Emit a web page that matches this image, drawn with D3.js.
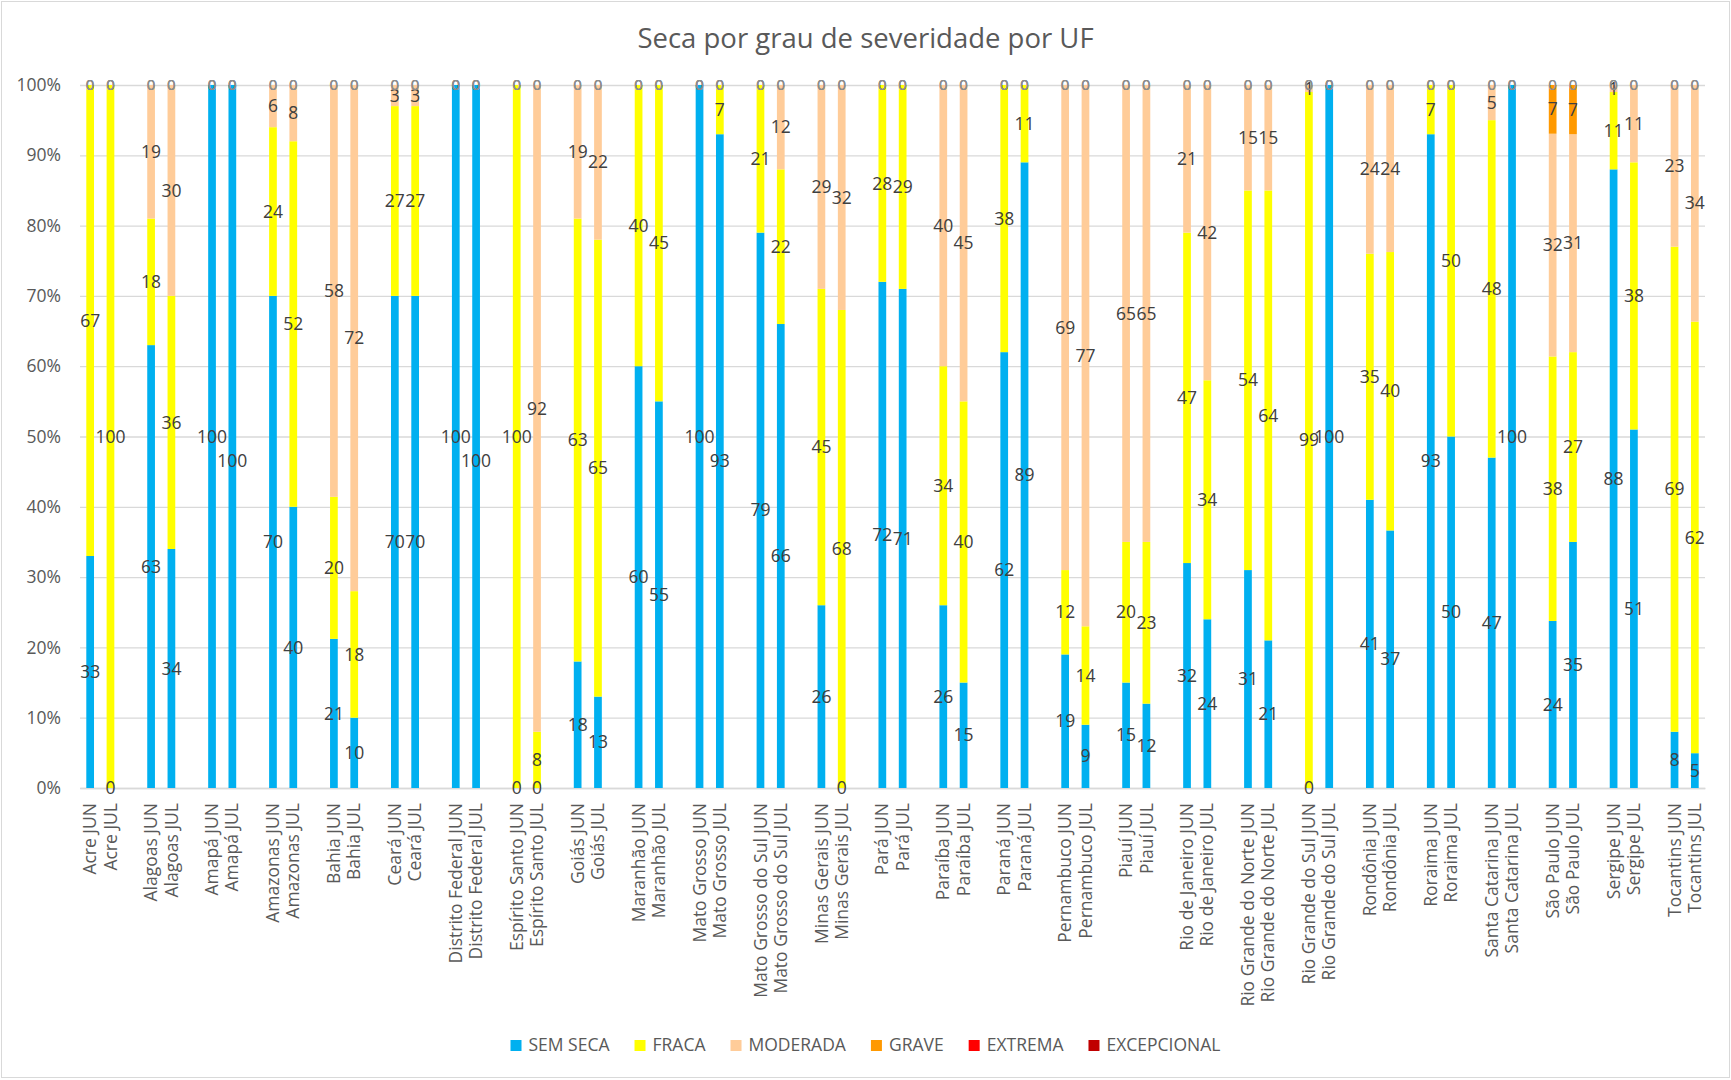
<!DOCTYPE html>
<html>
<head>
<meta charset="utf-8">
<script src="https://cdn.jsdelivr.net/npm/d3@7"></script>
<style>
  body { margin: 0; background: #fff; }
  svg { display: block; font-family: "Open Sans", sans-serif; }
</style>
</head>
<body>
<svg id="chart" width="1731" height="1080"></svg>
<script>
// dados (% por UF, JUN e JUL alternados)
const ufs = ["Acre", "Alagoas", "Amapá", "Amazonas", "Bahia", "Ceará", "Distrito Federal",
  "Espírito Santo", "Goiás", "Maranhão", "Mato Grosso", "Mato Grosso do Sul", "Minas Gerais",
  "Pará", "Paraíba", "Paraná", "Pernambuco", "Piauí", "Rio de Janeiro", "Rio Grande do Norte",
  "Rio Grande do Sul", "Rondônia", "Roraima", "Santa Catarina", "São Paulo", "Sergipe", "Tocantins"]
const meses = ["JUN", "JUL"]
const graus = ["SEM SECA", "FRACA", "MODERADA", "GRAVE", "EXTREMA", "EXCEPCIONAL"]
const cores = ["#00B0F0", "#FFFF00", "#FFCC99", "#FF9900", "#FF0000", "#C00000"]

const semSeca = [33, 0, 63, 34, 100, 100, 70, 40, 21, 10, 70, 70, 100, 100, 0, 0, 18, 13, 60, 55,
  100, 93, 79, 66, 26, 0, 72, 71, 26, 15, 62, 89, 19, 9, 15, 12, 32, 24, 31, 21, 0, 100,
  41, 37, 93, 50, 47, 100, 24, 35, 88, 51, 8, 5]
const fraca = [67, 100, 18, 36, 0, 0, 24, 52, 20, 18, 27, 27, 0, 0, 100, 8, 63, 65, 40, 45,
  0, 7, 21, 22, 45, 68, 28, 29, 34, 40, 38, 11, 12, 14, 20, 23, 47, 34, 54, 64, 99, 0,
  35, 40, 7, 50, 48, 0, 38, 27, 11, 38, 69, 62]
const moderada = [0, 0, 19, 30, 0, 0, 6, 8, 58, 72, 3, 3, 0, 0, 0, 92, 19, 22, 0, 0,
  0, 0, 0, 12, 29, 32, 0, 0, 40, 45, 0, 0, 69, 77, 65, 65, 21, 42, 15, 15, 1, 0,
  24, 24, 0, 0, 5, 0, 32, 31, 1, 11, 23, 34]
const grave = [0, 0, 0, 0, 0, 0, 0, 0, 0, 0, 0, 0, 0, 0, 0, 0, 0, 0, 0, 0,
  0, 0, 0, 0, 0, 0, 0, 0, 0, 0, 0, 0, 0, 0, 0, 0, 0, 0, 0, 0, 0, 0,
  0, 0, 0, 0, 0, 0, 7, 7, 0, 0, 0, 0]
const extrema = [0, 0, 0, 0, 0, 0, 0, 0, 0, 0, 0, 0, 0, 0, 0, 0, 0, 0, 0, 0,
  0, 0, 0, 0, 0, 0, 0, 0, 0, 0, 0, 0, 0, 0, 0, 0, 0, 0, 0, 0, 0, 0,
  0, 0, 0, 0, 0, 0, 0, 0, 0, 0, 0, 0]
const excepcional = [0, 0, 0, 0, 0, 0, 0, 0, 0, 0, 0, 0, 0, 0, 0, 0, 0, 0, 0, 0,
  0, 0, 0, 0, 0, 0, 0, 0, 0, 0, 0, 0, 0, 0, 0, 0, 0, 0, 0, 0, 0, 0,
  0, 0, 0, 0, 0, 0, 0, 0, 0, 0, 0, 0]

const valores = [semSeca, fraca, moderada, grave, extrema, excepcional]

// linhas da planilha: JUN, JUL e uma linha em branco entre as UFs
let linhas = []
let dados = []
ufs.forEach(function(uf, i) {
    meses.forEach(function(mes, j) {
        let row = { key: uf + " " + mes, label: uf + " " + mes }
        graus.forEach(function(g, s) {
            row[g] = valores[s][i * 2 + j]
        })
        linhas.push(row)
        dados.push(row)
    })
    if (i < ufs.length - 1)
        linhas.push({ key: "vazio" + i, label: "" })
})

const svg = d3.select("#chart")
const W = 1731, H = 1080
const plotLeft = 80, plotRight = 1705, plotTop = 85, plotBottom = 788

svg.append("rect")
    .attr("x", 1.5).attr("y", 1.5)
    .attr("width", W - 3).attr("height", H - 4)
    .attr("fill", "#fff")
    .attr("stroke", "#D9D9D9")

let x = d3.scaleBand()
    .domain(linhas.map(d => d.key))
    .range([plotLeft, plotRight])
    .paddingInner(0.62)
    .paddingOuter(0.31)

let y = d3.scaleLinear()
    .domain([0, 1])
    .range([plotBottom, plotTop])

// eixo y com linhas de grade
let yAxis = svg.append("g")
    .attr("transform", "translate(" + plotLeft + ",0)")
    .call(d3.axisLeft(y).ticks(10).tickFormat(d3.format(".0%")).tickSize(-(plotRight - plotLeft)).tickPadding(19))
yAxis.select(".domain").remove()
yAxis.selectAll("line").attr("stroke", "#D9D9D9").attr("stroke-width", 1.3)
yAxis.selectAll("text")
    .attr("fill", "#595959")
    .style("font-size", "17.5px")
    .style("font-family", "Open Sans")

// eixo x com rótulos verticais
let labelPorKey = {}
linhas.forEach(d => labelPorKey[d.key] = d.label)

let xAxis = svg.append("g")
    .attr("transform", "translate(0," + plotBottom + ")")
    .call(d3.axisBottom(x).tickSize(0).tickSizeOuter(0).tickFormat(k => labelPorKey[k]))
xAxis.select(".domain").attr("stroke", "#D9D9D9").attr("stroke-width", 1.3)
xAxis.selectAll("text")
    .attr("transform", "rotate(-90)")
    .attr("text-anchor", "end")
    .attr("x", -15)
    .attr("y", 0)
    .attr("dy", "0.35em")
    .attr("fill", "#595959")
    .style("font-size", "17.5px")
    .style("font-family", "Open Sans")

// barras 100% empilhadas
let stack = d3.stack()
    .keys(graus)
    .offset(d3.stackOffsetExpand)
let camadas = stack(dados)

let grupos = svg.append("g")
    .selectAll("g")
    .data(camadas)
    .enter()
    .append("g")
    .attr("fill", function(d, i) {
        return cores[i]
    })

grupos.selectAll("rect")
    .data(d => d)
    .enter()
    .append("rect")
    .attr("x", d => x(d.data.key))
    .attr("width", x.bandwidth())
    .attr("y", d => y(d[1]))
    .attr("height", d => y(d[0]) - y(d[1]))

// rótulos de dados (os zeros do topo ficam menores e cinza, como no original)
let rotulos = svg.append("g")
let todos = []
camadas.forEach(function(camada, s) {
    rotulos.selectAll("text.s" + s)
        .data(camada)
        .enter()
        .append("text")
        .attr("class", "s" + s)
        .attr("x", d => x(d.data.key) + x.bandwidth() / 2)
        .attr("y", d => (y(d[0]) + y(d[1])) / 2)
        .attr("dy", "0.35em")
        .attr("text-anchor", "middle")
        .attr("fill", function(d) {
            if (d.data[camada.key] == 0 && s > 0)
                return "#8C8C8C"
            return "#404040"
        })
        .style("font-size", function(d) {
            if (d.data[camada.key] == 0 && s > 0)
                return "15px"
            return "17.5px"
        })
        .text(d => d.data[camada.key])
        .each(function(d) {
            if (d.data[camada.key] != 0)
                todos.push(this)
        })
})

// afasta rótulos de barras vizinhas que se sobrepõem demais (ex.: 100 e 100)
todos.forEach(function(a) {
    todos.forEach(function(b) {
        if (a === b) return
        let ba = a.getBBox(), bb = b.getBBox()
        if (bb.x <= ba.x) return
        let sobreX = (ba.x + ba.width) - bb.x
        let sobreY = Math.min(ba.y + ba.height, bb.y + bb.height) - Math.max(ba.y, bb.y)
        if (sobreX > 8 && sobreY > 10)
            d3.select(b).attr("y", +d3.select(b).attr("y") + ba.height)
    })
})

// título
svg.append("text")
    .attr("x", W / 2)
    .attr("y", 48)
    .attr("text-anchor", "middle")
    .attr("fill", "#595959")
    .style("font-size", "27.5px")
    .text("Seca por grau de severidade por UF")

// legenda
let legenda = svg.append("g")
let pos = 0
graus.forEach(function(g, i) {
    let item = legenda.append("g").attr("transform", "translate(" + pos + ",0)")
    item.append("rect")
        .attr("x", 0).attr("y", -11)
        .attr("width", 11).attr("height", 11)
        .attr("fill", cores[i])
    let t = item.append("text")
        .attr("x", 18)
        .attr("y", 0)
        .attr("fill", "#595959")
        .style("font-size", "17.5px")
        .text(g)
    pos += 18 + t.node().getComputedTextLength() + 25
})
pos -= 25
legenda.attr("transform", "translate(" + (W / 2 - pos / 2) + ",1051)")
</script>
</body>
</html>
